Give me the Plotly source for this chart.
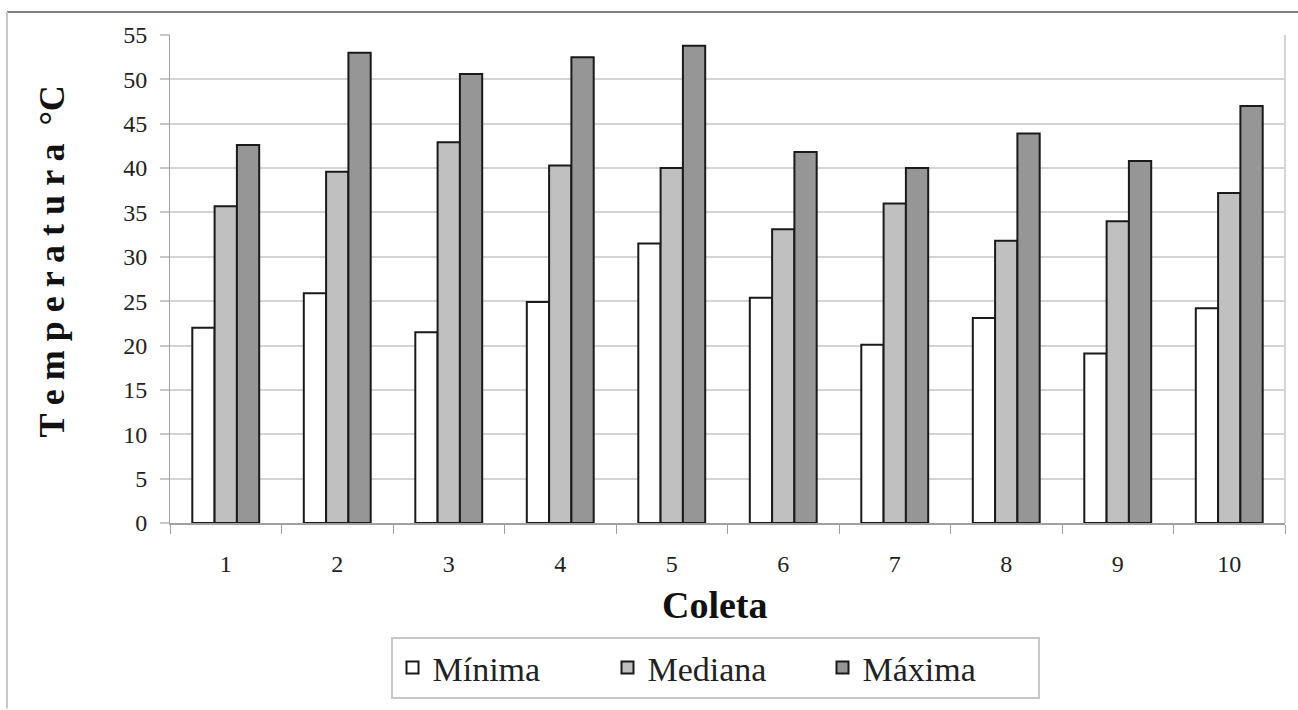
import plotly.graph_objects as go

categorias = ["1", "2", "3", "4", "5", "6", "7", "8", "9", "10"]
minima = [22.0, 25.9, 21.5, 24.9, 31.5, 25.4, 20.1, 23.1, 19.1, 24.2]
mediana = [35.7, 39.6, 42.9, 40.3, 40.0, 33.1, 36.0, 31.8, 34.0, 37.2]
maxima = [42.6, 53.0, 50.6, 52.5, 53.8, 41.8, 40.0, 43.9, 40.8, 47.0]
y_ticks = [0, 5, 10, 15, 20, 25, 30, 35, 40, 45, 50, 55]

FONT = "Liberation Serif, Times New Roman, serif"
W, H = 1298, 710
L, R, T, B = 170, 13, 35, 186
pw = W - L - R
ph = H - T - B

fig = go.Figure()
for nome, vals, cor in [("Mínima", minima, "#ffffff"),
                        ("Mediana", mediana, "#c0c0c0"),
                        ("Máxima", maxima, "#969696")]:
    fig.add_trace(go.Bar(x=categorias, y=vals, name=nome,
                         marker=dict(color=cor, line=dict(color="#1a1a1a", width=2))))

def px_x(p):
    return (p - L) / pw

def px_y(p):
    return (H - B - p) / ph

fig.update_layout(
    width=W, height=H,
    margin=dict(l=L, r=R, t=T, b=B),
    paper_bgcolor="white", plot_bgcolor="white",
    barmode="group", bargap=0.4, bargroupgap=0,
    font=dict(family=FONT, color="#222222"),
    showlegend=True,
    legend=dict(orientation="h", x=px_x(715), y=px_y(668), xanchor="center", yanchor="middle",
                bordercolor="#c8c8c8", borderwidth=2, bgcolor="white",
                font=dict(family=FONT, size=34, color="#222222"),
                entrywidth=170, entrywidthmode="pixels",
                traceorder="normal"),
    xaxis=dict(type="category", showgrid=False, showline=True, linecolor="#a0a0a0", linewidth=2,
               ticks="outside", tickson="boundaries", ticklen=9, tickcolor="#a0a0a0", tickwidth=1,
               tickfont=dict(family=FONT, size=24, color="#222222"),
               ticklabelstandoff=18),
    yaxis=dict(range=[0, 55], tickvals=y_ticks, showgrid=True, gridcolor="#d4d4d4", gridwidth=2,
               showline=True, linecolor="#a0a0a0", linewidth=1,
               ticks="outside", ticklen=9, tickcolor="#c8c8c8", tickwidth=2,
               tickfont=dict(family=FONT, size=24, color="#222222"),
               ticklabelstandoff=8, zeroline=False),
)

# Y title
fig.add_annotation(text="T e m p e r a t u r a  °C", textangle=-90, xref="paper", yref="paper",
                   x=px_x(52), y=px_y(262), xanchor="center", yanchor="middle", showarrow=False,
                   font=dict(family=FONT, size=36, color="#111111", weight="bold"))
# X title
fig.add_annotation(text="Coleta", xref="paper", yref="paper", x=px_x(715), y=px_y(606),
                   xanchor="center", yanchor="middle", showarrow=False,
                   font=dict(family=FONT, size=38, color="#111111", weight="bold"))

# outer frame lines and right plot border
fig.add_shape(type="line", xref="paper", yref="paper", x0=px_x(7), x1=px_x(1298), y0=px_y(12), y1=px_y(12),
              line=dict(color="#808080", width=2))
fig.add_shape(type="line", xref="paper", yref="paper", x0=px_x(7), x1=px_x(7), y0=px_y(12), y1=px_y(710),
              line=dict(color="#c8c8c8", width=2))
fig.add_shape(type="line", xref="paper", yref="paper", x0=1, x1=1, y0=0, y1=1,
              line=dict(color="#d4d4d4", width=2))

fig.write_html("out.html")
